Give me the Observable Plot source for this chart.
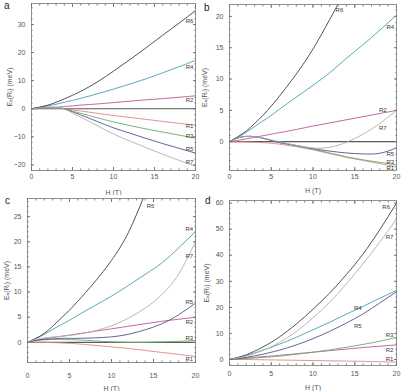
<!DOCTYPE html>
<html><head><meta charset="utf-8">
<script src="https://cdn.jsdelivr.net/npm/d3@7"></script>
<script src="https://cdn.jsdelivr.net/npm/@observablehq/plot@0.6"></script>
<style>
body{margin:0;background:#fff;font-family:"Liberation Sans",Arial,sans-serif;}
#wrap{position:relative;width:401px;height:391px;overflow:hidden;}
.panel{position:absolute;}
.letter{position:absolute;font-size:10px;color:#222;line-height:10px;}
</style></head><body><div id="wrap"></div>
<script>
// magnetic field H (T)
const H = [0,1,2,3,4,5,6,8,10,12,14,16,18,20];
const seriesNames = ["R1","R2","R3","R4","R5","R6","R7"];
const seriesColors = ["#e58585","#c2559a","#6aae6a","#44a2ad","#52528f","#404040","#b0b0b0"];
const xTicks = [0,5,10,15,20];
const xMinor = d3.range(0,21,1);

// panel a
const aR1 = [0,0.1,0.2,0.2,0,-0.4,-0.8,-1.6,-2.4,-3.1,-3.8,-4.5,-5.2,-5.8];
const aR2 = [0,0.1,0.3,0.5,0.8,1,1.3,1.7,2.2,2.7,3.2,3.6,4.1,4.6];
const aR3 = [0,0.2,0.3,0.3,0,-0.8,-1.6,-3.2,-4.7,-6,-7.2,-8.3,-9.4,-10.5];
const aR4 = [0,0.45,1,1.6,2.3,3,3.7,5.3,7,8.8,10.7,12.8,15,17.2];
const aR5 = [0,0.3,0.5,0.5,0,-1.1,-2.2,-4.5,-6.8,-8.7,-10.6,-12.4,-14.1,-15.8];
const aR6 = [0,0.6,1.3,2.3,3.5,4.8,6.2,9.5,13.4,17.5,21.8,26.2,30.5,35];
const aR7 = [0,0.3,0.5,0.5,-0.1,-1.5,-3,-6,-9,-11.5,-13.9,-16.2,-18.4,-20.5];
const aLabelNames = ["R6","R4","R2","R1","R3","R5","R7"];
const aLabelH = [18.8,18.8,18.8,18.8,18.8,18.8,18.8];
const aLabelE = [31.2,15,3.2,-6.3,-9.8,-14.5,-19];
const aYTicks = [-20,-10,0,10,20,30];
const aYMinor = d3.range(-22,38,2);

// panel b
const bR1 = [0,-0.02,-0.05,-0.1,-0.15,-0.25,-0.4,-0.8,-1.3,-1.9,-2.5,-3,-3.5,-4];
const bR2 = [0,0.2,0.45,0.7,0.95,1.2,1.45,1.95,2.5,3,3.5,4,4.5,5];
const bR3 = [0,0.6,0.85,0.8,0.55,0.2,-0.15,-0.7,-1.2,-1.8,-2.4,-2.9,-3.3,-3.7];
const bR4 = [0,0.7,1.5,2.4,3.3,4.2,5.2,7.1,9,11,13.3,15.5,17.8,20.2];
const bR5 = [0,0.6,0.85,0.8,0.55,0.2,-0.15,-0.6,-1.1,-1.5,-1.8,-1.95,-1.85,-1.0];
const bR6 = [0,0.8,1.7,2.9,4.2,5.7,7.3,10.8,14.8,19.5,24.5,30,36,42];
const bR7 = [0,0.6,0.85,0.8,0.6,0.3,0,-0.6,-1,-0.9,-0.1,1.2,2.9,5];
const bLabelNames = ["R6","R4","R2","R7","R5","R3","R1"];
const bLabelH = [12.7,18.8,17.9,17.9,18.8,18.8,18.8];
const bLabelE = [21,18.3,5.1,2.1,-2,-3.2,-4.2];
const bYTicks = [0,5,10,15,20];
const bYMinor = d3.range(-4,22,1);

// panel c
const cR1 = [0,0,0,-0.05,-0.1,-0.2,-0.3,-0.6,-0.9,-1.2,-1.6,-2,-2.4,-2.8];
const cR2 = [0,0.4,0.7,1,1.2,1.45,1.7,2.2,2.7,3.2,3.7,4.2,4.6,5];
const cR3 = [0,0.35,0.5,0.6,0.6,0.55,0.5,0.3,0.1,0,0,0.1,0.2,0.4];
const cR4 = [0,0.8,1.6,2.6,3.5,4.4,5.4,7.3,9.2,11.3,13.5,15.8,18.8,22];
const cR5 = [0,0.4,0.6,0.7,0.8,0.8,0.8,0.9,1.1,1.6,2.5,3.7,5.5,7.8];
const cR6 = [0,0.8,1.8,3.2,4.8,6.4,8.2,12,16.3,21.8,29.6,38,47,57];
const cR7 = [0,0.6,0.9,1.05,1.2,1.4,1.6,2.3,3.3,4.8,6.8,9.5,13.6,20];
const cLabelNames = ["R6","R4","R7","R5","R2","R3","R1"];
const cLabelH = [14.2,18.8,18.8,18.8,18.8,18.8,18.8];
const cLabelE = [27,22.5,17.2,8.1,4,0.8,-3.4];
const cYTicks = [0,5,10,15,20,25];
const cYMinor = d3.range(-4,29,1);

// panel d
const dR1 = [0,0,0,-0.05,-0.1,-0.15,-0.2,-0.3,-0.4,-0.5,-0.6,-0.7,-0.85,-1];
const dR2 = [0,0.25,0.5,0.8,1.1,1.35,1.6,2.2,2.8,3.4,4,4.6,5.1,5.6];
const dR3 = [0,0.2,0.4,0.6,0.8,1,1.3,2,2.8,3.7,4.7,5.8,7,8.5];
const dR4 = [0,0.7,1.5,2.5,3.6,4.7,5.9,8.5,11.4,14.3,17.4,20.4,23.5,26.5];
const dR5 = [0,0.4,0.8,1.4,2,2.8,3.6,5.6,8,10.8,14,17.5,21.7,26];
const dR6 = [0,0.8,1.8,3.2,4.8,6.6,8.7,13.6,19.3,25.5,32.6,40.5,49.8,60];
const dR7 = [0,0.6,1.3,2.3,3.5,4.9,6.6,10.7,16,22,29,36.8,45,54];
const dLabelNames = ["R6","R7","R4","R5","R3","R2","R1"];
const dLabelH = [18.3,18.7,14.9,14.9,18.7,18.7,18.7];
const dLabelE = [58.4,47,19.7,13,9.5,3.7,0];
const dYTicks = [0,10,20,30,40,50,60];
const dYMinor = d3.range(-2,62,2);

const panels = [
  {letter:"a", series:[aR1,aR2,aR3,aR4,aR5,aR6,aR7], ln:aLabelNames, lh:aLabelH, le:aLabelE, yt:aYTicks, ym:aYMinor,
   yDomain:[-22,37.5], left:0, top:0, width:200, height:195, mL:31, mR:5, mT:3, mB:25, zero:true,
   xPad:6.5, xLab:24.5, yLab:24.5, lx:4, ly:1},
  {letter:"b", series:[bR1,bR2,bR3,bR4,bR5,bR6,bR7], ln:bLabelNames, lh:bLabelH, le:bLabelE, yt:bYTicks, ym:bYMinor,
   yDomain:[-4.6,21.9], left:200, top:0, width:201, height:195, mL:29, mR:5, mT:4, mB:25, zero:true,
   xPad:6.5, xLab:22, yLab:27, lx:4, ly:3},
  {letter:"c", series:[cR1,cR2,cR3,cR4,cR5,cR6,cR7], ln:cLabelNames, lh:cLabelH, le:cLabelE, yt:cYTicks, ym:cYMinor,
   yDomain:[-4,28.6], left:0, top:195, width:200, height:196, mL:27, mR:5, mT:3, mB:29, zero:true,
   xPad:14, xLab:28, yLab:23.5, lx:5, ly:1},
  {letter:"d", series:[dR1,dR2,dR3,dR4,dR5,dR6,dR7], ln:dLabelNames, lh:dLabelH, le:dLabelE, yt:dYTicks, ym:dYMinor,
   yDomain:[-2.3,61], left:200, top:195, width:201, height:196, mL:29, mR:5, mT:5, mB:26, zero:false,
   xPad:9, xLab:24, yLab:25.5, lx:5, ly:1}
];

const wrap = document.getElementById("wrap");
const blank = () => "";
for (const p of panels) {
  const rows = [];
  p.series.forEach((vals, i) => vals.forEach((v, j) => rows.push({H: H[j], E: v, s: seriesNames[i]})));
  const labels = p.ln.map((n, i) => ({s: n, H: p.lh[i], E: p.le[i]}));
  const marks = [];
  if (p.zero) marks.push(Plot.ruleY([0], {stroke: "#5a5a5a", strokeWidth: 1.2}));
  marks.push(
    Plot.line(rows, {x: "H", y: "E", z: "s", stroke: "s", strokeWidth: 0.9, curve: "natural", clip: true}),
    Plot.text(labels, {x: "H", y: "E", text: "s", textAnchor: "start", fontSize: 6, fill: "#3a3a3a"}),
    Plot.frame({stroke: "#777", strokeWidth: 0.8}),
    Plot.axisX(xTicks, {tickSize: -3, tickPadding: p.xPad, label: "H (T)", labelAnchor: "center", labelArrow: "none", labelOffset: p.xLab, stroke: "#777"}),
    Plot.axisX(xMinor, {tickSize: -1.5, tickFormat: blank, label: null, stroke: "#777"}),
    Plot.axisX(xTicks, {anchor: "top", tickSize: -3, tickFormat: blank, label: null, stroke: "#777"}),
    Plot.axisX(xMinor, {anchor: "top", tickSize: -1.5, tickFormat: blank, label: null, stroke: "#777"}),
    Plot.axisY(p.yt, {tickSize: -3, tickPadding: 9, label: "Eₐ(Rᵢ) (meV)", labelAnchor: "center", labelArrow: "none", labelOffset: p.yLab, stroke: "#777"}),
    Plot.axisY(p.ym, {tickSize: -1.5, tickFormat: blank, label: null, stroke: "#777"}),
    Plot.axisY(p.yt, {anchor: "right", tickSize: -3, tickFormat: blank, label: null, stroke: "#777"}),
    Plot.axisY(p.ym, {anchor: "right", tickSize: -1.5, tickFormat: blank, label: null, stroke: "#777"})
  );
  const chart = Plot.plot({
    width: p.width, height: p.height,
    marginLeft: p.mL, marginRight: p.mR, marginTop: p.mT, marginBottom: p.mB,
    style: {fontFamily: "'Liberation Sans', Arial, sans-serif", fontSize: "7px", color: "#555", background: "transparent"},
    x: {domain: [0, 20]},
    y: {domain: p.yDomain},
    color: {domain: seriesNames, range: seriesColors},
    marks
  });
  const div = document.createElement("div");
  div.className = "panel";
  div.style.left = p.left + "px";
  div.style.top = p.top + "px";
  div.appendChild(chart);
  wrap.appendChild(div);
  const letter = document.createElement("div");
  letter.className = "letter";
  letter.textContent = p.letter;
  letter.style.left = (p.left + p.lx) + "px";
  letter.style.top = (p.top + p.ly) + "px";
  wrap.appendChild(letter);
}
</script></body></html>
